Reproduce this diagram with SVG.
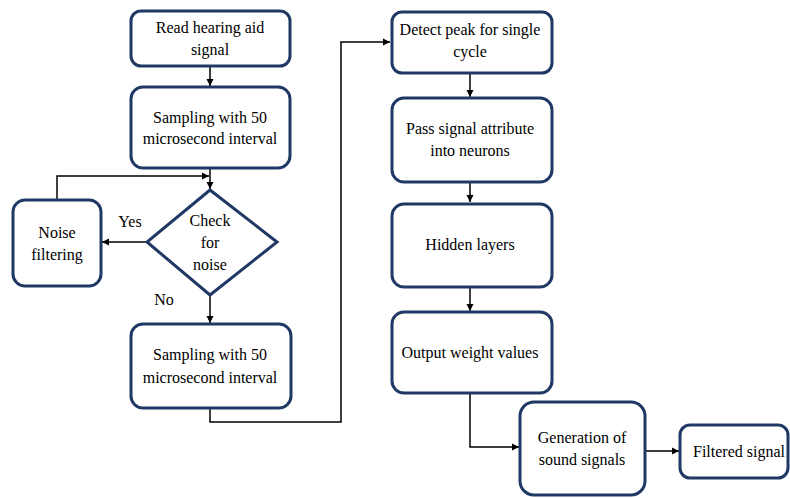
<svg xmlns="http://www.w3.org/2000/svg" width="790" height="498" viewBox="0 0 790 498">
<defs>
<style>
.box{fill:#fff;stroke:#1f3864;stroke-width:3}
text{font-family:'Liberation Serif','Times New Roman',serif;font-size:16px;fill:#000;text-anchor:middle}
.c{fill:none;stroke:#000;stroke-width:1.5}
</style>
<marker id="ah" markerWidth="8" markerHeight="8" refX="7" refY="4" orient="auto" markerUnits="userSpaceOnUse">
<path d="M0,0.5 L7,4 L0,7.5 Z" fill="#000"/>
</marker>
</defs>
<rect width="790" height="498" fill="#fff"/>
<g id="connectors">
<path class="c" d="M210,66 V86" marker-end="url(#ah)"/>
<path class="c" d="M210,168 V189" marker-end="url(#ah)"/>
<path class="c" d="M57,199 V176 H209" marker-end="url(#ah)"/>
<path class="c" d="M147,242 H102" marker-end="url(#ah)"/>
<path class="c" d="M210,295 V323" marker-end="url(#ah)"/>
<path class="c" d="M210,408 V422 H341 V42 H390" marker-end="url(#ah)"/>
<path class="c" d="M470,73 V97" marker-end="url(#ah)"/>
<path class="c" d="M470,182 V202" marker-end="url(#ah)"/>
<path class="c" d="M470,287 V311" marker-end="url(#ah)"/>
<path class="c" d="M470,393 V447 H519" marker-end="url(#ah)"/>
<path class="c" d="M645,451 H679" marker-end="url(#ah)"/>
</g>
<g id="n1"><rect class="box" x="131" y="11" width="159" height="55" rx="10"/>
<text x="210" y="33">Read hearing aid</text><text x="210" y="55">signal</text></g>
<g id="n2"><rect class="box" x="131" y="87" width="159" height="81" rx="12"/>
<text x="210" y="123">Sampling with 50</text><text x="210" y="144">microsecond interval</text></g>
<g id="n3"><path class="box" d="M210,190 L277,242 L210,295 L147,242 Z"/>
<text x="210" y="226">Check</text><text x="210" y="248">for</text><text x="210" y="270">noise</text></g>
<g id="n4"><rect class="box" x="13" y="200" width="88" height="86" rx="12"/>
<text x="57" y="238">Noise</text><text x="57" y="260">filtering</text></g>
<text x="130" y="227">Yes</text>
<text x="164" y="305">No</text>
<g id="n5"><rect class="box" x="131" y="324" width="160" height="84" rx="12"/>
<text x="210" y="360">Sampling with 50</text><text x="210" y="383">microsecond interval</text></g>
<g id="n6"><rect class="box" x="392" y="12" width="160" height="61" rx="10"/>
<text x="470" y="35">Detect peak for single</text><text x="470" y="57">cycle</text></g>
<g id="n7"><rect class="box" x="392" y="98" width="160" height="84" rx="12"/>
<text x="470" y="134">Pass signal attribute</text><text x="470" y="156">into neurons</text></g>
<g id="n8"><rect class="box" x="392" y="204" width="160" height="83" rx="12"/>
<text x="470" y="250">Hidden layers</text></g>
<g id="n9"><rect class="box" x="392" y="312" width="160" height="81" rx="12"/>
<text x="470" y="358">Output weight values</text></g>
<g id="n10"><rect class="box" x="520" y="402" width="125" height="93" rx="14"/>
<text x="582" y="443">Generation of</text><text x="582" y="465">sound signals</text></g>
<g id="n11"><rect class="box" x="680" y="425" width="108" height="53" rx="10"/>
<text x="739" y="457">Filtered signal</text></g>
</svg>
